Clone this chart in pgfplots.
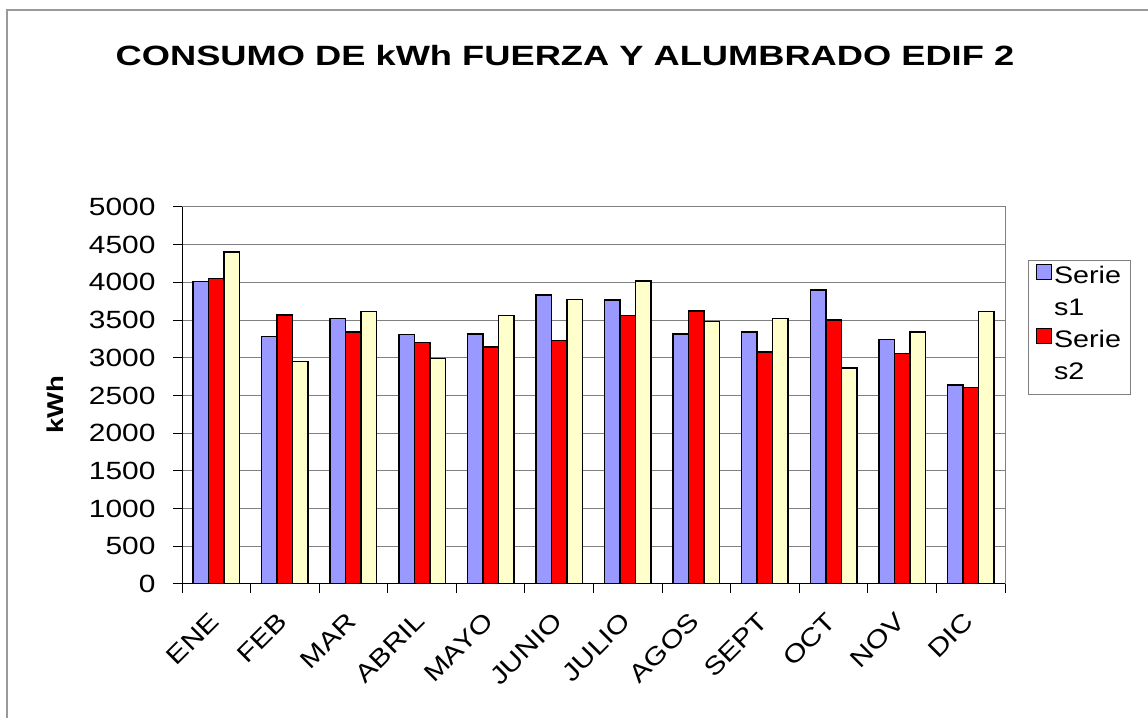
\documentclass[border=0pt]{standalone}
\usepackage{pgfplots}
\pgfplotsset{compat=1.18}
\usepackage{fontspec}
\setmainfont{Liberation Sans}[FakeStretch=1.2]
\newfontfamily\titlefont{Liberation Sans}[FakeStretch=1.3]
\definecolor{sA}{HTML}{9999FF}
\definecolor{sB}{HTML}{FF0000}
\definecolor{sC}{HTML}{FFFFCC}
\definecolor{gridgray}{HTML}{808080}
\begin{document}
\begin{tikzpicture}[x=1bp,y=1bp]
\useasboundingbox (0,0) rectangle (1148,718);
\draw[gridgray!80, line width=1.5bp] (7,0) -- (7,708) -- (1148,708);
\node[font=\titlefont\bfseries\fontsize{28}{32}\selectfont] at (565,662) {CONSUMO DE kWh FUERZA Y ALUMBRADO EDIF 2};
\begin{axis}[
  at={(182bp,134bp)}, anchor=south west, scale only axis,
  width=823bp, height=377bp,
  ymin=0, ymax=5000, ytick={0,500,...,5000},
  xmin=-0.5, xmax=11.5, xtick={0,...,11},
  xticklabels={ENE,FEB,MAR,ABRIL,MAYO,JUNIO,JULIO,AGOS,SEPT,OCT,NOV,DIC},
  major x tick style={draw=none},
  minor xtick={-0.5,0.5,...,11.5},
  xtick pos=bottom, ytick pos=left,
  tick align=outside, major tick length=9bp, minor tick length=9bp,
  tick style={black, line width=1bp},
  ymajorgrids, grid style={gridgray, line width=1bp},
  axis line style={gridgray, line width=1bp},
  ybar, bar width=0.226,
  xticklabel style={xshift=-8bp, yshift=-13bp, rotate=45, anchor=north east, font=\fontsize{25}{25}\selectfont},
  yticklabel style={font=\fontsize{25}{25}\selectfont, xshift=-14bp},
  /pgf/number format/assume math mode=true,
  /pgf/number format/1000 sep={},
  ylabel={kWh},
  ylabel style={font=\bfseries\fontsize{23}{23}\selectfont, at={(axis description cs:-0.154,0.475)}, anchor=center},
  legend style={at={(axis description cs:1.028,0.859)}, anchor=north west, draw=gridgray, line width=1bp,
    font=\fontsize{24}{24}\selectfont, inner xsep=7bp, inner ysep=3bp, row sep=0bp,
    nodes={inner sep=2bp, text height=18bp, text depth=10bp},
    cells={anchor=west},
    /tikz/every even column/.append style={column sep=4bp}},
  legend image code/.code={\draw[#1, line width=1.5bp] (0bp,0bp) rectangle (15bp,15bp);},
  every axis plot/.append style={draw=black, line width=1.5bp},
]
\addplot[fill=sA, bar shift=-0.226] coordinates {(0,4010) (1,3280) (2,3518) (3,3310) (4,3314) (5,3836) (6,3765) (7,3314) (8,3340) (9,3898) (10,3243) (11,2642)};
\addlegendentry{Serie}
\addlegendimage{empty legend}
\addlegendentry{s1}
\addplot[fill=sB, bar shift=0] coordinates {(0,4050) (1,3566) (2,3345) (3,3200) (4,3140) (5,3230) (6,3562) (7,3620) (8,3075) (9,3500) (10,3058) (11,2606)};
\addlegendentry{Serie}
\addlegendimage{empty legend}
\addlegendentry{s2}
\addplot[fill=sC, bar shift=0.226, forget plot] coordinates {(0,4400) (1,2950) (2,3615) (3,2990) (4,3560) (5,3770) (6,4018) (7,3482) (8,3518) (9,2863) (10,3345) (11,3615)};
\draw[black, line width=1.5bp] (rel axis cs:0,1) -- (rel axis cs:0,0) -- (rel axis cs:1,0);
\end{axis}
\end{tikzpicture}
\end{document}
